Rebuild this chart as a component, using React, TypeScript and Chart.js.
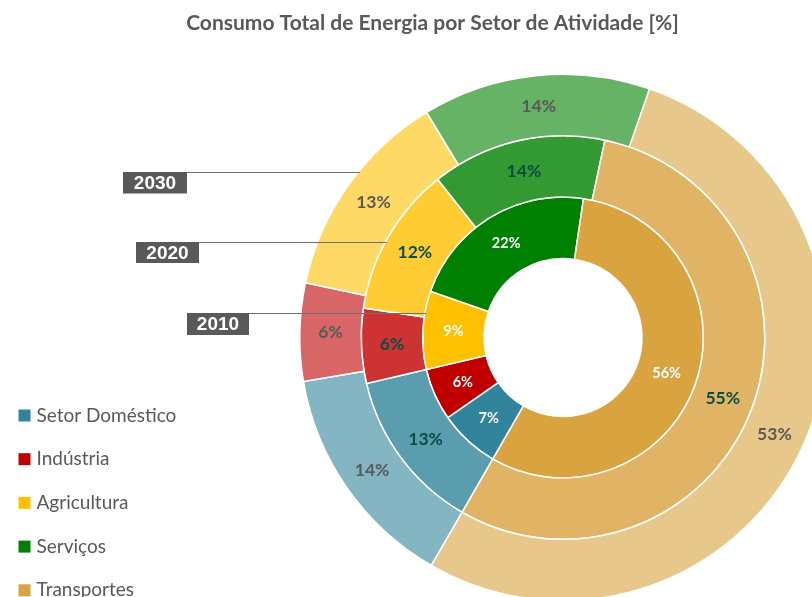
import React, { useEffect, useRef } from 'react';
import { Chart, registerables } from 'chart.js';

Chart.register(...registerables);

// ---- data ----
const categories = ['Setor Doméstico', 'Indústria', 'Agricultura', 'Serviços', 'Transportes'];
const years = ['2030', '2020', '2010']; // outer ring -> inner ring
const values2030 = [14, 6, 13, 14, 53];
const values2020 = [13, 6, 12, 14, 55];
const values2010 = [7, 6, 9, 22, 56];
const colors2010 = ['#31849B', '#C00000', '#FFC000', '#008000', '#D9A33F'];
const colors2020 = ['#5A9DAF', '#CD3333', '#FFCD33', '#339933', '#E1B465'];
const colors2030 = ['#83B5C3', '#D96666', '#FFD966', '#66B366', '#E8C78B'];
const labelColors = ['#595959', '#0B4C43', '#FFFFFF'];
const titleText = 'Consumo Total de Energia por Setor de Atividade [%]';

// ---- layout constants ----
const CX = 563;
const CY = 337.5;
const BOX_R = 264;

const areaPlugin = {
  id: 'areaOverride',
  afterLayout(chart: any) {
    chart.chartArea = {
      left: CX - BOX_R,
      top: CY - BOX_R,
      right: CX + BOX_R,
      bottom: CY + BOX_R,
      width: BOX_R * 2,
      height: BOX_R * 2,
    };
  },
};

const labelsPlugin = {
  id: 'ringLabels',
  afterDatasetsDraw(chart: any) {
    const ctx = chart.ctx;
    ctx.save();
    ctx.textAlign = 'center';
    ctx.textBaseline = 'middle';
    chart.data.datasets.forEach((ds: any, di: number) => {
      const meta = chart.getDatasetMeta(di);
      const size = di === 2 ? 14.5 : 17.5;
      ctx.font = `bold ${size}px Lato, "Open Sans", sans-serif`;
      ctx.fillStyle = labelColors[di];
      meta.data.forEach((arc: any, i: number) => {
        const p = arc.getCenterPoint();
        ctx.fillText(`${ds.data[i]}%`, p.x, p.y);
      });
    });
    ctx.restore();
  },
};

const yearBoxes = [
  { x: 123, y: 172, w: 64, h: 21.5 },
  { x: 136, y: 242, w: 63, h: 21 },
  { x: 187, y: 313, w: 62, h: 22 },
];

const yearPlugin = {
  id: 'yearTags',
  afterDatasetsDraw(chart: any) {
    const ctx = chart.ctx;
    ctx.save();
    years.forEach((yr, di) => {
      const meta = chart.getDatasetMeta(di);
      const ctrl = meta.controller;
      const arc0 = meta.data[0];
      const cx = arc0.x;
      const cy = arc0.y;
      const R = ctrl.outerRadius;
      const b = yearBoxes[di];
      const ly = b.y + 0.5;
      const endX = cx - Math.sqrt(Math.max(R * R - (ly - cy) * (ly - cy), 0)) + 2;
      ctx.strokeStyle = '#6f6f6f';
      ctx.lineWidth = 1;
      ctx.beginPath();
      ctx.moveTo(b.x + b.w, ly);
      ctx.lineTo(endX, ly);
      ctx.stroke();
      ctx.fillStyle = '#595959';
      ctx.fillRect(b.x, b.y, b.w, b.h);
      ctx.fillStyle = '#FFFFFF';
      ctx.font = 'bold 19px "Liberation Sans", Arial, sans-serif';
      ctx.textAlign = 'center';
      ctx.textBaseline = 'middle';
      ctx.fillText(yr, b.x + b.w / 2, b.y + b.h / 2 + 1);
    });
    ctx.restore();
  },
};

const legendPlugin = {
  id: 'customLegend',
  afterDraw(chart: any) {
    const ctx = chart.ctx;
    ctx.save();
    ctx.textAlign = 'left';
    ctx.textBaseline = 'middle';
    ctx.font = '19px Lato, "Open Sans", sans-serif';
    categories.forEach((c, i) => {
      const y = 415.5 + i * 43.7;
      ctx.fillStyle = colors2010[i];
      ctx.fillRect(18.5, y - 6, 12, 12);
      ctx.fillStyle = '#595959';
      ctx.fillText(c, 36.5, y);
    });
    ctx.restore();
  },
};

export default function App() {
  const ref = useRef<HTMLCanvasElement>(null);
  useEffect(() => {
    const chart = new Chart(ref.current as HTMLCanvasElement, {
      type: 'doughnut',
      data: {
        labels: categories,
        datasets: [
          { label: years[0], data: values2030, backgroundColor: colors2030, borderColor: '#ffffff', borderWidth: 1.5 },
          { label: years[1], data: values2020, backgroundColor: colors2020, borderColor: '#ffffff', borderWidth: 1.5 },
          { label: years[2], data: values2010, backgroundColor: colors2010, borderColor: '#ffffff', borderWidth: 1.5 },
        ],
      },
      options: {
        responsive: false,
        animation: false,
        events: [],
        rotation: 210,
        cutout: '30%',
        layout: { padding: { left: 53, right: 0, top: 0, bottom: 0 } },
        plugins: {
          legend: { display: false },
          tooltip: { enabled: false },
          title: {
            display: true,
            text: titleText,
            color: '#595959',
            font: { family: 'Lato, "Open Sans", sans-serif', size: 21, weight: 'bold' },
            padding: { top: 11, bottom: 10 },
          },
        },
      },
      plugins: [areaPlugin, labelsPlugin, yearPlugin, legendPlugin],
    } as any);
    return () => chart.destroy();
  }, []);
  return (
    <div style={{ position: 'fixed', left: 0, top: 0, width: 812, height: 597, overflow: 'hidden', background: '#fff' }}>
      <canvas ref={ref} width={812} height={597} style={{ display: 'block' }} />
    </div>
  );
}
